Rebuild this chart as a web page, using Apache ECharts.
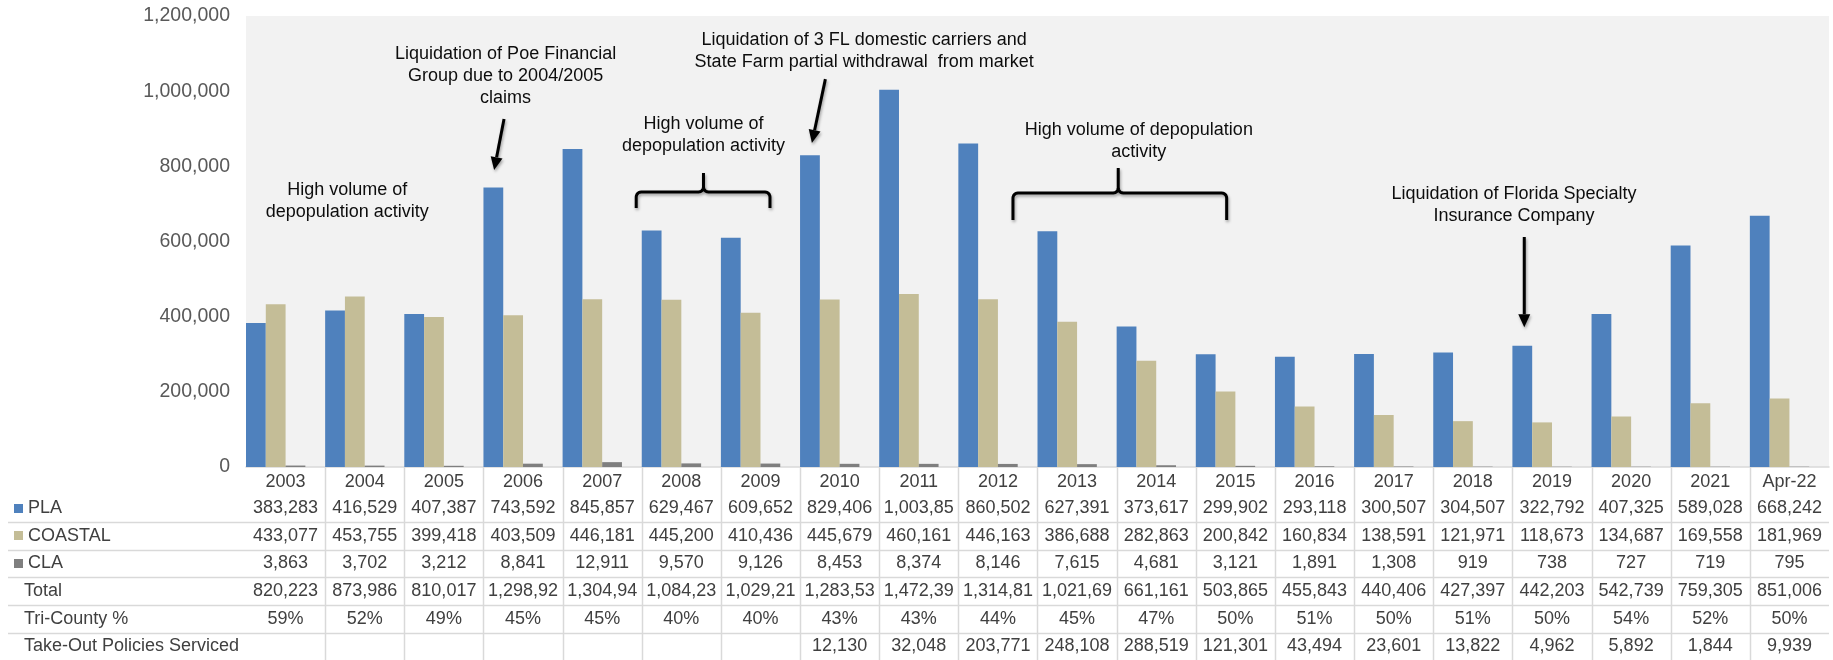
<!DOCTYPE html>
<html>
<head>
<meta charset="utf-8">
<script src="https://cdn.jsdelivr.net/npm/echarts@6/dist/echarts.min.js"></script>
<style>
  html, body { margin: 0; padding: 0; background: #ffffff; }
  #chart { width: 1833px; height: 660px; }
</style>
</head>
<body>
<div id="chart"></div>
<script>
// Policy counts by year
const years = ['2003', '2004', '2005', '2006', '2007', '2008', '2009', '2010', '2011', '2012',
  '2013', '2014', '2015', '2016', '2017', '2018', '2019', '2020', '2021', 'Apr-22'];
const pla = [383283, 416529, 407387, 743592, 845857, 629467, 609652, 829406, 1003850, 860502,
  627391, 373617, 299902, 293118, 300507, 304507, 322792, 407325, 589028, 668242];
const coastal = [433077, 453755, 399418, 403509, 446181, 445200, 410436, 445679, 460161, 446163,
  386688, 282863, 200842, 160834, 138591, 121971, 118673, 134687, 169558, 181969];
const cla = [3863, 3702, 3212, 8841, 12911, 9570, 9126, 8453, 8374, 8146,
  7615, 4681, 3121, 1891, 1308, 919, 738, 727, 719, 795];
const totals = ['820,223', '873,986', '810,017', '1,298,92', '1,304,94', '1,084,23', '1,029,21', '1,283,53', '1,472,39', '1,314,81',
  '1,021,69', '661,161', '503,865', '455,843', '440,406', '427,397', '442,203', '542,739', '759,305', '851,006'];
const triCountyPct = [59, 52, 49, 45, 45, 40, 40, 43, 43, 44, 45, 47, 50, 51, 50, 51, 50, 54, 52, 50];
const takeOuts = [null, null, null, null, null, null, null, 12130, 32048, 203771,
  248108, 288519, 121301, 43494, 23601, 13822, 4962, 5892, 1844, 9939];

const seriesNames = ['PLA', 'COASTAL', 'CLA'];
const rowNames = ['Total', 'Tri-County %', 'Take-Out Policies Serviced'];
const yTicks = [0, 200000, 400000, 600000, 800000, 1000000, 1200000];

const noteTexts = [
  'High volume of\ndepopulation activity',
  'Liquidation of Poe Financial\nGroup due to 2004/2005\nclaims',
  'High volume of\ndepopulation activity',
  'Liquidation of 3 FL domestic carriers and\nState Farm partial withdrawal  from market',
  'High volume of depopulation\nactivity',
  'Liquidation of Florida Specialty\nInsurance Company'
];

const COLORS = ['#4F81BD', '#C4BD97', '#7F7F7F'];
const FONT = '"Liberation Sans", Arial, sans-serif';
const TEXT_COLOR = '#404040';
const LINE_COLOR = '#D9D9D9';

const fmt = v => (v == null ? '' : String(v).replace(/\B(?=(\d{3})+(?!\d))/g, ','));

// rows of the data table under the plot
const tableRows = [
  { label: seriesNames[0], color: COLORS[0], cells: pla.map(fmt) },
  { label: seriesNames[1], color: COLORS[1], cells: coastal.map(fmt) },
  { label: seriesNames[2], color: COLORS[2], cells: cla.map(fmt) },
  { label: rowNames[0], cells: totals },
  { label: rowNames[1], cells: triCountyPct.map(v => v + '%') },
  { label: rowNames[2], cells: takeOuts.map(fmt) }
];

const ROW0 = 41;      // first table row centre below the zero line
const ROW_H = 27.7;   // table row pitch

function renderTableColumn(params, api) {
  const i = api.value(0);
  const pt = api.coord([i, 0]);
  const cx = pt[0], zeroY = pt[1];
  const bw = api.size([1, 0])[0];
  const H = api.getHeight();
  const children = [];
  tableRows.forEach((row, r) => {
    children.push({
      type: 'text',
      style: {
        text: row.cells[i], x: cx, y: zeroY + ROW0 + r * ROW_H,
        align: 'center', verticalAlign: 'middle',
        font: '18px ' + FONT, fill: TEXT_COLOR,
        width: bw - 1, overflow: 'truncate', ellipsis: ''
      }
    });
  });
  if (i > 0) {
    const lx = Math.round(cx - bw / 2) + 0.5;
    children.push({
      type: 'line',
      shape: { x1: lx, y1: zeroY, x2: lx, y2: H },
      style: { stroke: LINE_COLOR, lineWidth: 1.5 }
    });
  }
  if (i === 0) {
    const right = cx - bw / 2 + bw * years.length;
    for (let r = 0; r < tableRows.length - 1; r++) {
      const ly = Math.round(zeroY + ROW0 + (r + 0.5) * ROW_H) + 0.5;
      children.push({
        type: 'line',
        shape: { x1: 8, y1: ly, x2: right, y2: ly },
        style: { stroke: LINE_COLOR, lineWidth: 1.5 }
      });
    }
    tableRows.forEach((row, r) => {
      const cy = zeroY + ROW0 + r * ROW_H;
      if (row.color) {
        children.push({
          type: 'rect',
          shape: { x: 14, y: Math.round(cy - 4.5), width: 9, height: 9 },
          style: { fill: row.color }
        });
      }
      children.push({
        type: 'text',
        style: {
          text: row.label, x: row.color ? 28 : 24, y: cy,
          align: 'left', verticalAlign: 'middle',
          font: '18px ' + FONT, fill: TEXT_COLOR
        }
      });
    });
  }
  return { type: 'group', children };
}

// annotation layout, in category units from the plot's left edge and axis values
const NOTE_POS = [[1.28, 709000], [3.28, 1040000], [5.78, 882000], [7.81, 1107000], [11.28, 866000], [16.02, 696000]];
const ARROWS = [
  [[3.26, 926000], [3.135, 790000]],
  [[7.32, 1032000], [7.15, 862000]],
  [[16.15, 612000], [16.15, 372000]]
];
const BRACES = [
  { from: 4.93, to: 6.62, spike: 5.78, top: 782000, bar: 731700, end: 689000 },
  { from: 9.69, to: 12.39, spike: 11.02, top: 795600, bar: 729000, end: 657200 }
];

function arc(cx, cy, r, a0, a1, n) {
  const pts = [];
  for (let k = 0; k <= n; k++) {
    const a = (a0 + (a1 - a0) * k / n) * Math.PI / 180;
    pts.push([cx + r * Math.cos(a), cy + r * Math.sin(a)]);
  }
  return pts;
}

function renderNotes(params, api) {
  const bw = api.size([1, 0])[0];
  const x0 = api.coord([0, 0])[0] - bw / 2;
  const X = p => x0 + p * bw;
  const Y = v => api.coord([0, v])[1];
  const shadow = { shadowBlur: 3, shadowColor: 'rgba(0,0,0,0.35)', shadowOffsetX: 1, shadowOffsetY: 2 };
  const els = [];

  noteTexts.forEach((t, k) => {
    els.push({
      type: 'text',
      style: {
        text: t, x: X(NOTE_POS[k][0]), y: Y(NOTE_POS[k][1]),
        align: 'center', verticalAlign: 'middle',
        font: '18px ' + FONT, lineHeight: 22, fill: '#0d0d0d'
      }
    });
  });

  ARROWS.forEach(a => {
    const tx = X(a[0][0]), ty = Y(a[0][1]);
    const hx = X(a[1][0]), hy = Y(a[1][1]);
    const len = Math.hypot(hx - tx, hy - ty);
    const dx = (hx - tx) / len, dy = (hy - ty) / len;
    const headL = 13, headW = 6;
    const bx = hx - dx * headL, by = hy - dy * headL;
    els.push({
      type: 'line',
      shape: { x1: tx, y1: ty, x2: bx, y2: by },
      style: Object.assign({ stroke: '#000', lineWidth: 3 }, shadow)
    });
    els.push({
      type: 'polygon',
      shape: { points: [[hx, hy], [bx - dy * headW, by + dx * headW], [bx + dy * headW, by - dx * headW]] },
      style: Object.assign({ fill: '#000' }, shadow)
    });
  });

  BRACES.forEach(b => {
    const xl = X(b.from), xr = X(b.to), xs = X(b.spike);
    const yt = Y(b.top), yb = Y(b.bar), ye = Y(b.end);
    const r = 5;
    const left = [[xl, ye]]
      .concat(arc(xl + r, yb + r, r, 180, 270, 6))
      .concat(arc(xs - r, yb - r, r, 90, 0, 6))
      .concat([[xs, yt]]);
    const right = [[xs, yb - r]]
      .concat(arc(xs + r, yb - r, r, 180, 90, 6))
      .concat(arc(xr - r, yb + r, r, 270, 360, 6))
      .concat([[xr, ye]]);
    [left, right].forEach(pts => {
      els.push({
        type: 'polyline',
        shape: { points: pts },
        style: Object.assign({ stroke: '#000', lineWidth: 3, fill: null, lineJoin: 'round' }, shadow)
      });
    });
  });

  return { type: 'group', children: els };
}

const chart = echarts.init(document.getElementById('chart'), null, { renderer: 'canvas' });

const barSeries = [pla, coastal, cla].map((data, k) => ({
  name: seriesNames[k],
  type: 'bar',
  data: data,
  itemStyle: { color: COLORS[k] },
  barGap: '0%',
  barCategoryGap: '0%',
  silent: true
}));
// empty slot keeps each cluster on the left three quarters of its column
barSeries.push({ name: 'spacer', type: 'bar', data: years.map(() => null), silent: true, barGap: '0%', barCategoryGap: '0%' });

chart.setOption({
  animation: false,
  textStyle: { fontFamily: FONT },
  grid: {
    left: 246, right: 4, top: 16, bottom: 193,
    show: true, backgroundColor: '#F2F2F2', borderWidth: 0
  },
  xAxis: {
    type: 'category',
    data: years,
    axisLine: { show: true, lineStyle: { color: LINE_COLOR, width: 1.5 } },
    axisTick: { show: false },
    axisLabel: { fontSize: 18, color: TEXT_COLOR, margin: 6, fontFamily: FONT, interval: 0 }
  },
  yAxis: {
    type: 'value',
    min: yTicks[0],
    max: yTicks[yTicks.length - 1],
    interval: yTicks[1] - yTicks[0],
    splitLine: { show: false },
    axisLine: { show: false },
    axisTick: { show: false },
    axisLabel: { fontSize: 19.5, color: '#595959', margin: 16, fontFamily: FONT, formatter: v => fmt(v) }
  },
  series: barSeries.concat([
    {
      type: 'custom',
      name: 'table',
      data: years.map((y, i) => [i, 0]),
      encode: { x: 0, y: 1 },
      renderItem: renderTableColumn,
      clip: false,
      silent: true,
      z: 5
    },
    {
      type: 'custom',
      name: 'notes',
      data: [[0, 0]],
      encode: { x: 0, y: 1 },
      renderItem: renderNotes,
      clip: false,
      silent: true,
      z: 6
    }
  ])
});
</script>
</body>
</html>
